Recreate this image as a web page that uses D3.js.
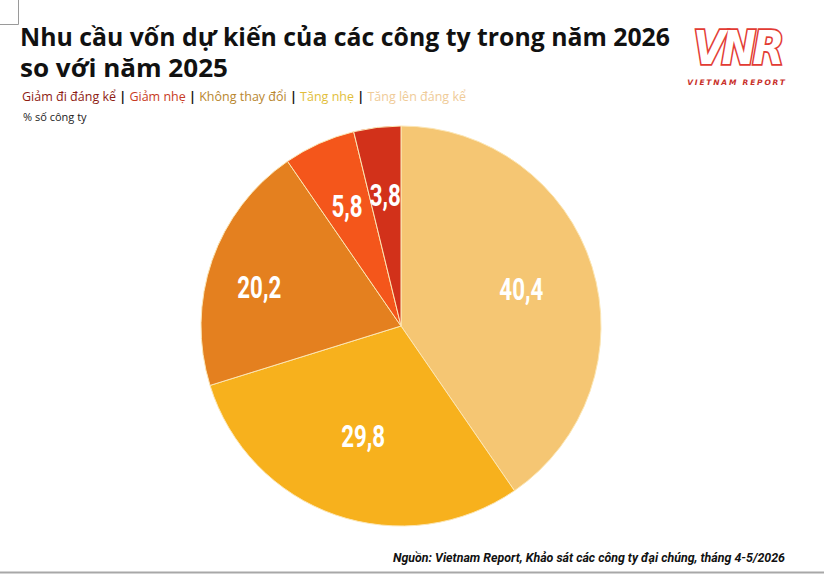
<!DOCTYPE html>
<html>
<head>
<meta charset="utf-8">
<script src="https://cdn.jsdelivr.net/npm/d3@7"></script>
<style>
  body { margin: 0; background: #fff; }
  svg { display: block; }
</style>
</head>
<body>
<div id="container"></div>
<script>
const WIDTH = 824;
const HEIGHT = 576;

// chart data, clockwise from 12 o'clock
const categories = ["Tăng lên đáng kể", "Tăng nhẹ", "Không thay đổi", "Giảm nhẹ", "Giảm đi đáng kể"];
const values = [40.4, 29.8, 20.2, 5.8, 3.8];
const sliceColors = ["#F5C673", "#F7B11D", "#E4801F", "#F4561B", "#D2311A"];

// legend, left to right
const legendLabels = ["Giảm đi đáng kể", "Giảm nhẹ", "Không thay đổi", "Tăng nhẹ", "Tăng lên đáng kể"];
const legendColors = ["#8E1B12", "#C83A22", "#B8862E", "#E2BE3A", "#EFCB98"];

const svg = d3.select("#container")
  .append("svg")
  .attr("width", WIDTH)
  .attr("height", HEIGHT);

// small crop mark top-left
svg.append("path")
  .attr("d", "M0,24.5H18.5V0")
  .attr("fill", "none")
  .attr("stroke", "#9a9a9a")
  .attr("stroke-width", 1);

// title, two lines
svg.append("text")
  .attr("x", 20).attr("y", 46)
  .attr("font-family", "'Open Sans', Roboto, sans-serif")
  .attr("font-weight", 700)
  .attr("font-size", 25)
  .attr("textLength", 650).attr("lengthAdjust", "spacingAndGlyphs")
  .attr("fill", "#111")
  .text("Nhu cầu vốn dự kiến của các công ty trong năm 2026");
svg.append("text")
  .attr("x", 20).attr("y", 77)
  .attr("font-family", "'Open Sans', Roboto, sans-serif")
  .attr("font-weight", 700)
  .attr("font-size", 25)
  .attr("textLength", 208).attr("lengthAdjust", "spacingAndGlyphs")
  .attr("fill", "#111")
  .text("so với năm 2025");

// legend line
const legend = svg.append("text")
  .attr("x", 22)
  .attr("y", 101)
  .attr("font-family", "'Open Sans', Roboto, sans-serif")
  .attr("font-size", 12.5)
  .attr("textLength", 444)
  .attr("lengthAdjust", "spacingAndGlyphs");
legendLabels.forEach((lab, i) => {
  legend.append("tspan").attr("fill", legendColors[i]).text(lab);
  if (i < legendLabels.length - 1) {
    legend.append("tspan").attr("fill", "#111").attr("font-weight", 700).text(" | ");
  }
});

svg.append("text")
  .attr("x", 23)
  .attr("y", 121)
  .attr("font-family", "'Open Sans', Roboto, sans-serif")
  .attr("font-size", 11)
  .attr("fill", "#222")
  .text("% số công ty");

// logo
const logo = svg.append("g");
logo.append("text")
  .attr("transform", "translate(737,64) scale(0.9,1)")
  .attr("text-anchor", "middle")
  .attr("font-family", "'DejaVu Sans', sans-serif")
  .attr("font-style", "italic")
  .attr("font-weight", 700)
  .attr("font-size", 46)
  .attr("letter-spacing", -4)
  .attr("fill", "#fff")
  .attr("stroke", "#E23B33")
  .attr("stroke-width", 3.5)
  .attr("paint-order", "stroke")
  .text("VNR");
logo.append("text")
  .attr("x", 737)
  .attr("y", 85)
  .attr("text-anchor", "middle")
  .attr("font-family", "'DejaVu Sans', sans-serif")
  .attr("font-style", "italic")
  .attr("font-weight", 700)
  .attr("font-size", 7.5)
  .attr("letter-spacing", 1.8)
  .attr("fill", "#C8302A")
  .text("VIETNAM REPORT");

// pie
const CX = 401;
const CY = 326;
const R = 200;

const pie = d3.pie().sort(null).value((d) => d);
const arc = d3.arc().innerRadius(0).outerRadius(R);
const arcs = pie(values);

const g = svg.append("g").attr("transform", `translate(${CX},${CY})`);

g.selectAll("path")
  .data(arcs)
  .enter()
  .append("path")
  .attr("d", arc)
  .attr("fill", (d, i) => sliceColors[i])
  .attr("stroke", "#FCE6B4")
  .attr("stroke-width", 1);

// labels sit at different depths in the original
const labelDepth = [0.63, 0.58, 0.75, 0.66, 0.66];
const labelShift = [0, 0, 10, 0, 0];
g.selectAll("text.val")
  .data(arcs)
  .enter()
  .append("text")
  .attr("class", "val")
  .attr("transform", (d, i) => {
    const r = R * labelDepth[i];
    const c = d3.arc().innerRadius(r).outerRadius(r).centroid(d);
    return `translate(${c[0]},${c[1] + labelShift[i]}) scale(0.72,1)`;
  })
  .attr("text-anchor", "middle")
  .attr("dy", "0.36em")
  .attr("font-family", "Roboto, sans-serif")
  .attr("font-weight", 700)
  .attr("font-size", 31)
  .attr("fill", "#fff")
  .text((d) => String(d.data).replace(".", ","));

// source + bottom rule
svg.append("text")
  .attr("x", 393)
  .attr("y", 562)
  .attr("font-family", "Roboto, sans-serif")
  .attr("font-style", "italic")
  .attr("font-weight", 700)
  .attr("font-size", 13)
  .attr("textLength", 392)
  .attr("lengthAdjust", "spacingAndGlyphs")
  .attr("fill", "#111")
  .text("Nguồn: Vietnam Report, Khảo sát các công ty đại chúng, tháng 4-5/2026");

svg.append("line")
  .attr("x1", 0).attr("x2", WIDTH)
  .attr("y1", 572.5).attr("y2", 572.5)
  .attr("stroke", "#a8a8a8")
  .attr("stroke-width", 2);
</script>
</body>
</html>
